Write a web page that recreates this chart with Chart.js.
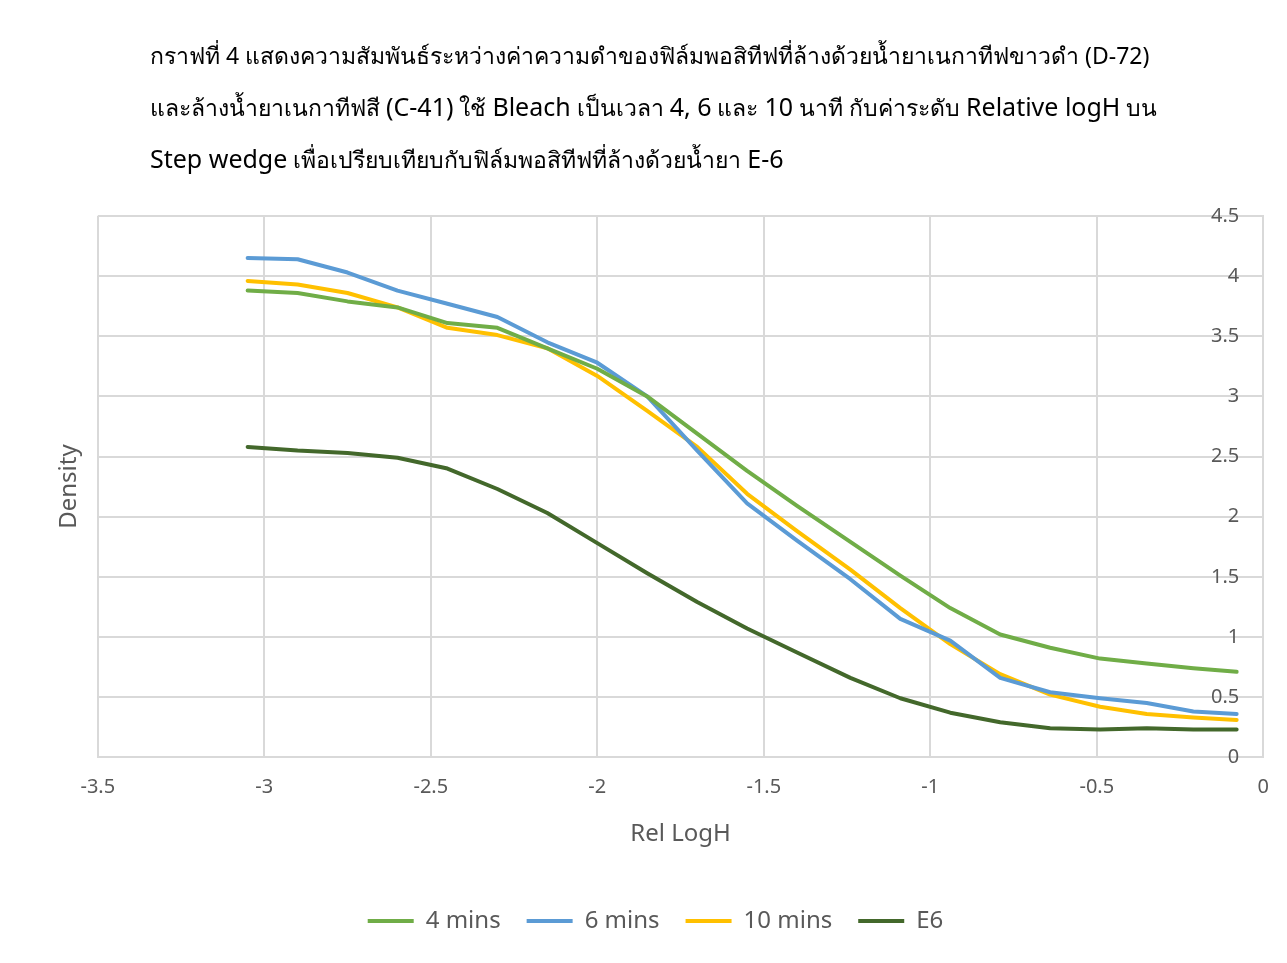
<!DOCTYPE html>
<html lang="th">
<head>
<meta charset="UTF-8" />
<title>Density vs Rel LogH</title>
<script src="https://cdn.jsdelivr.net/npm/chart.js"></script>
<style>
    html, body { margin: 0; padding: 0; background: #fff; }
    body { width: 1287px; height: 963px; position: relative; overflow: hidden; font-family: "Noto Sans", sans-serif; }
    #title {
        position: absolute; left: 150px; top: 30px;
        font-size: 23px; line-height: 51px; color: #000;
    }
    #title .l { font-size: 25px; }
    #wrap { position: absolute; left: 0; top: 0; width: 1287px; height: 963px; }
</style>
</head>
<body>
<div id="wrap"><canvas id="chart"></canvas></div>
<div id="title">
    <div>กราฟที่ 4 แสดงความสัมพันธ์ระหว่างค่าความดำของฟิล์มพอสิทีฟที่ล้างด้วยน้ำยาเนกาทีฟขาวดำ (D-72)</div>
    <div>และล้างน้ำยาเนกาทีฟสี <span class="l">(C-41)</span> ใช้ <span class="l">Bleach</span> เป็นเวลา <span class="l">4, 6</span> และ <span class="l">10</span> นาที กับค่าระดับ <span class="l">Relative logH</span> บน</div>
    <div><span class="l">Step wedge</span> เพื่อเปรียบเทียบกับฟิล์มพอสิทีฟที่ล้างด้วยน้ำยา <span class="l">E-6</span></div>
</div>

<script>
    // Rel LogH of each step wedge step
    const relLogH = [-3.05, -2.90, -2.75, -2.60, -2.45, -2.30, -2.15, -2.00, -1.85, -1.70, -1.55,
                     -1.40, -1.24, -1.09, -0.94, -0.79, -0.64, -0.49, -0.35, -0.21, -0.08];

    const mins4  = [3.88, 3.86, 3.79, 3.74, 3.61, 3.57, 3.40, 3.23, 3.00, 2.69, 2.38,
                    2.09, 1.79, 1.51, 1.24, 1.02, 0.91, 0.82, 0.78, 0.74, 0.71];
    const mins6  = [4.15, 4.14, 4.03, 3.88, 3.77, 3.66, 3.45, 3.28, 3.00, 2.55, 2.11,
                    1.80, 1.48, 1.15, 0.97, 0.66, 0.54, 0.49, 0.45, 0.38, 0.36];
    const mins10 = [3.96, 3.93, 3.86, 3.74, 3.57, 3.51, 3.40, 3.17, 2.88, 2.58, 2.19,
                    1.88, 1.56, 1.24, 0.94, 0.69, 0.52, 0.42, 0.36, 0.33, 0.31];
    const e6     = [2.58, 2.55, 2.53, 2.49, 2.40, 2.23, 2.03, 1.78, 1.53, 1.29, 1.07,
                    0.87, 0.66, 0.49, 0.37, 0.29, 0.24, 0.23, 0.24, 0.23, 0.23];

    const xTicks = [-3.5, -3, -2.5, -2, -1.5, -1, -0.5, 0];
    const yTicks = [0, 0.5, 1, 1.5, 2, 2.5, 3, 3.5, 4, 4.5];

    const toPoints = ys => ys.map((y, i) => ({ x: relLogH[i], y: y }));

    const series = [
        { label: '4 mins', values: mins4, color: '#70AD47' },
        { label: '6 mins', values: mins6, color: '#5B9BD5' },
        { label: '10 mins', values: mins10, color: '#FFC000' },
        { label: 'E6', values: e6, color: '#43682B' }
    ];

    const gray = '#595959';
    const gridColor = '#D9D9D9';

    new Chart(document.getElementById('chart'), {
        type: 'line',
        data: {
            datasets: series.map(s => ({
                label: s.label,
                data: toPoints(s.values),
                borderColor: s.color,
                backgroundColor: s.color,
                borderWidth: 4,
                pointRadius: 0,
                tension: 0,
                fill: false,
                borderCapStyle: 'round',
                borderJoinStyle: 'round'
            }))
        },
        options: {
            responsive: true,
            maintainAspectRatio: false,
            animation: false,
            layout: { padding: { top: 216, left: 47, right: 23, bottom: 20 } },
            plugins: {
                title: { display: false },
                tooltip: { enabled: false },
                legend: {
                    position: 'bottom',
                    labels: {
                        color: gray,
                        font: { family: 'Noto Sans', size: 24 },
                        usePointStyle: true,
                        pointStyle: 'line',
                        pointStyleWidth: 46,
                        boxHeight: 24,
                        padding: 26
                    }
                }
            },
            scales: {
                x: {
                    type: 'linear',
                    min: -3.5,
                    max: 0,
                    afterBuildTicks: axis => { axis.ticks = xTicks.map(v => ({ value: v })); },
                    grid: { color: gridColor, lineWidth: 2, drawTicks: false },
                    border: { color: gridColor, width: 2 },
                    ticks: {
                        color: gray,
                        font: { family: 'Noto Sans', size: 20 },
                        padding: 18,
                        callback: v => String(v)
                    },
                    title: {
                        display: true,
                        text: 'Rel LogH',
                        color: gray,
                        font: { family: 'Noto Sans', size: 24 },
                        padding: { top: 3, bottom: 34 }
                    }
                },
                y: {
                    type: 'linear',
                    position: 'right',
                    min: 0,
                    max: 4.5,
                    afterBuildTicks: axis => { axis.ticks = yTicks.map(v => ({ value: v })); },
                    afterFit: axis => { axis.width = 0; },
                    grid: { color: gridColor, lineWidth: 2, drawTicks: false },
                    border: { color: gridColor, width: 2 },
                    ticks: {
                        color: gray,
                        font: { family: 'Noto Sans', size: 20 },
                        mirror: true,
                        padding: -24,
                        callback: v => String(v)
                    }
                },
                yLeft: {
                    type: 'linear',
                    position: 'left',
                    min: 0,
                    max: 4.5,
                    grid: { display: false },
                    border: { display: false },
                    ticks: { display: false },
                    title: {
                        display: true,
                        text: 'Density',
                        color: gray,
                        font: { family: 'Noto Sans', size: 24 },
                        padding: { top: 8, bottom: 6 }
                    }
                }
            }
        }
    });
</script>
</body>
</html>
